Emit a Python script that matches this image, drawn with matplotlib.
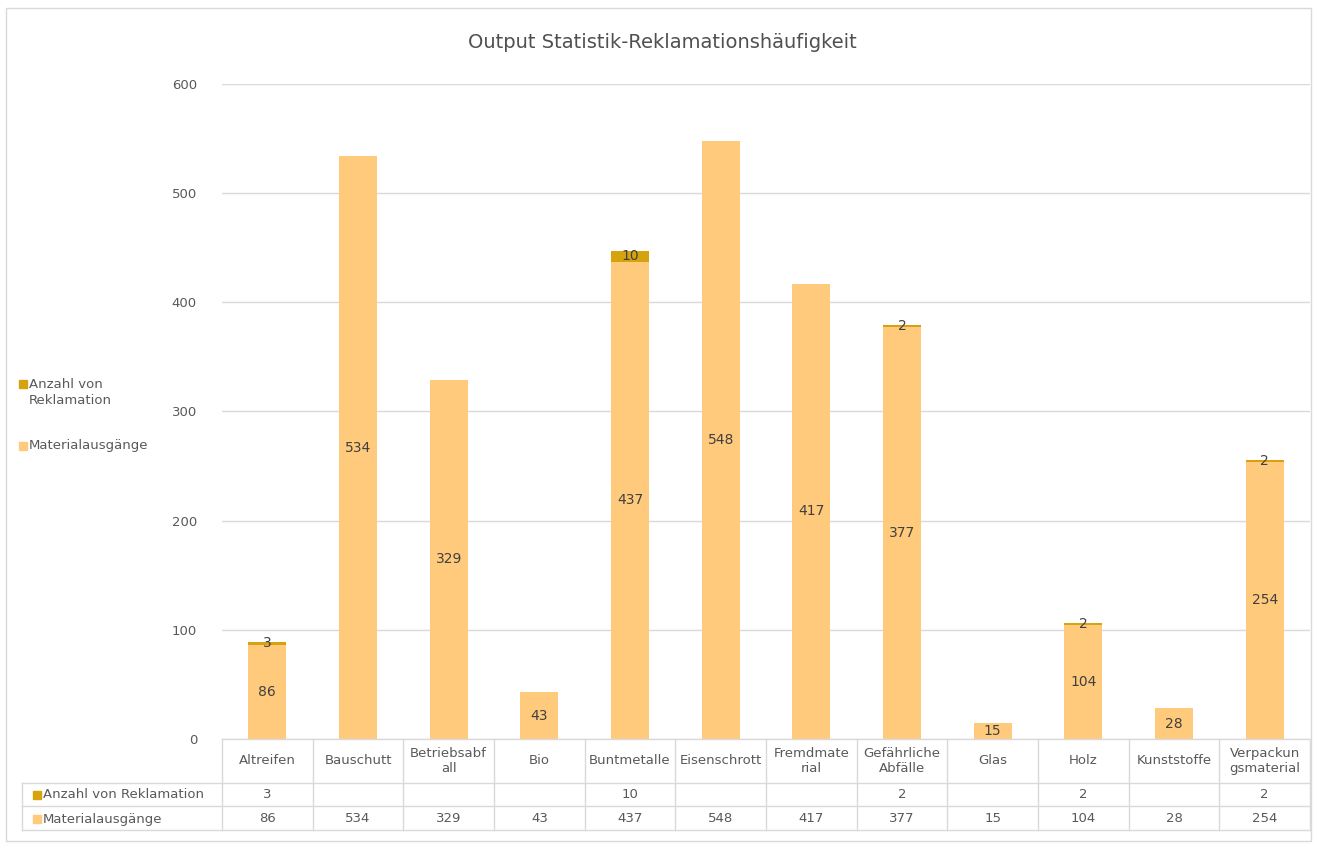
import numpy as np
import matplotlib
matplotlib.use("Agg")
import matplotlib.pyplot as plt
from matplotlib.patches import Rectangle

plt.rcParams["font.family"] = ["DejaVu Sans"]

# data
categories = ["Altreifen", "Bauschutt", "Betriebsabf\nall", "Bio", "Buntmetalle",
              "Eisenschrott", "Fremdmate\nrial", "Gefährliche\nAbfälle", "Glas",
              "Holz", "Kunststoffe", "Verpackun\ngsmaterial"]
materialausgaenge = [86, 534, 329, 43, 437, 548, 417, 377, 15, 104, 28, 254]
reklamationen = [3, 0, 0, 0, 10, 0, 0, 2, 0, 2, 0, 2]
series_names = ["Anzahl von Reklamation", "Materialausgänge"]
yticks = [0, 100, 200, 300, 400, 500, 600]

light = "#FFCA7B"
dark = "#D6A20E"
txt = "#595959"
grid_c = "#D9D9D9"
fs = 9.5

W, H = 1317, 848
fig = plt.figure(figsize=(W / 100, H / 100), dpi=100)

def fx(px):
    return px / W

def fy(py):
    return 1 - py / H

# outer border
fig.patches.append(Rectangle((fx(6), fy(841)), fx(1305), fy(8) - fy(841),
                             transform=fig.transFigure, fill=False, ec=grid_c, lw=1))

x0, x1, ytop, ybot = 222, 1310, 84, 739
ax = fig.add_axes([fx(x0), fy(ybot), fx(x1 - x0), fy(ytop) - fy(ybot)])
x = np.arange(len(categories))
w = 0.42
ax.bar(x, materialausgaenge, w, color=light, zorder=3)
ax.bar(x, reklamationen, w, bottom=materialausgaenge, color=dark, zorder=3)

for i in x:
    m = materialausgaenge[i]
    ax.text(i, m / 2, str(m), ha="center", va="center", fontsize=10, color="#404040", zorder=4)
    r = reklamationen[i]
    if r:
        ax.text(i, m + r / 2, str(r), ha="center", va="center", fontsize=10, color="#404040", zorder=4)

ax.set_xlim(-0.5, len(categories) - 0.5)
ax.set_ylim(0, 600)
ax.set_yticks(yticks)
ax.tick_params(axis="y", length=0, pad=18, labelsize=fs, labelcolor=txt)
ax.set_xticks([])
ax.grid(axis="y", color=grid_c, lw=1, zorder=0)
for s in ax.spines.values():
    s.set_visible(False)

fig.text(fx(662), fy(42), "Output Statistik-Reklamationshäufigkeit", ha="center", va="center",
         fontsize=14, color="#505050")

# data table below the plot
col_w = (x1 - x0) / len(categories)
row_lines = [739, 783, 806, 830]
left_tab = 22
for yy in row_lines:
    xa = x0 if yy == 739 else left_tab
    fig.add_artist(plt.Line2D([fx(xa), fx(x1)], [fy(yy), fy(yy)], color=grid_c, lw=1))
for k in range(len(categories) + 1):
    xx = x0 + k * col_w
    fig.add_artist(plt.Line2D([fx(xx), fx(xx)], [fy(739), fy(830)], color=grid_c, lw=1))
fig.add_artist(plt.Line2D([fx(left_tab), fx(left_tab)], [fy(783), fy(830)], color=grid_c, lw=1))

for k, c in enumerate(categories):
    cx = x0 + (k + 0.5) * col_w
    fig.text(fx(cx), fy(761), c, ha="center", va="center", fontsize=fs, color=txt, linespacing=1.15)
    r = reklamationen[k]
    if r:
        fig.text(fx(cx), fy(795), str(r), ha="center", va="center", fontsize=fs, color=txt)
    fig.text(fx(cx), fy(819), str(materialausgaenge[k]), ha="center", va="center", fontsize=fs, color=txt)

for name, col, yy in [(series_names[0], dark, 795), (series_names[1], light, 819)]:
    fig.patches.append(Rectangle((fx(33), fy(yy + 4)), fx(8), fy(yy - 4) - fy(yy + 4),
                                 transform=fig.transFigure, color=col))
    fig.text(fx(43), fy(yy), name, ha="left", va="center", fontsize=fs, color=txt)

# legend on the left
fig.patches.append(Rectangle((fx(19), fy(388)), fx(8), fy(380) - fy(388),
                             transform=fig.transFigure, color=dark))
fig.text(fx(29), fy(393), "Anzahl von\nReklamation", ha="left", va="center", fontsize=fs,
         color=txt, linespacing=1.3)
fig.patches.append(Rectangle((fx(19), fy(450)), fx(8), fy(442) - fy(450),
                             transform=fig.transFigure, color=light))
fig.text(fx(29), fy(446), "Materialausgänge", ha="left", va="center", fontsize=fs, color=txt)

fig.savefig("out.png", dpi=100)
